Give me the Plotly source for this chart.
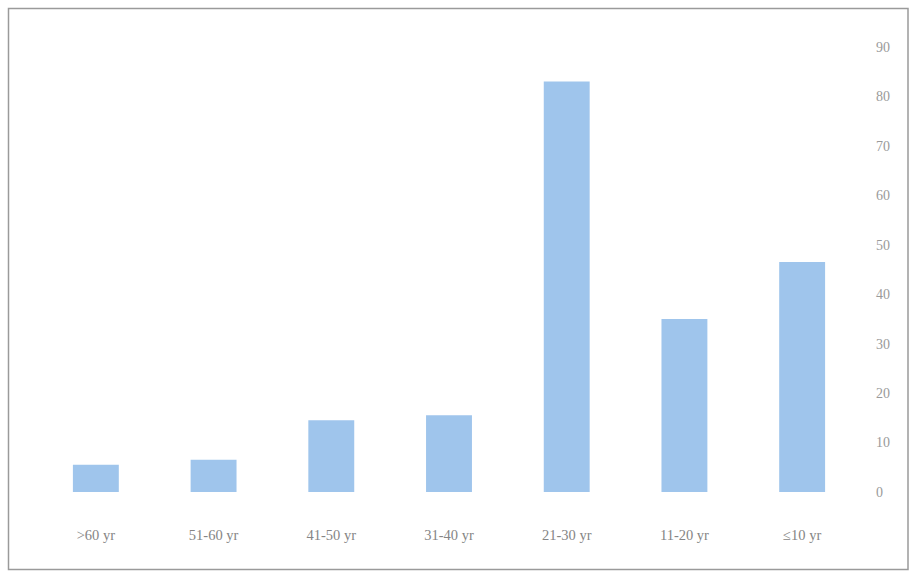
import plotly.graph_objects as go

categories = [">60 yr", "51-60 yr", "41-50 yr", "31-40 yr", "21-30 yr", "11-20 yr", "≤10 yr"]
values = [5.5, 6.5, 14.5, 15.5, 83, 35, 46.5]
y_ticks = [0, 10, 20, 30, 40, 50, 60, 70, 80, 90]

fig = go.Figure(go.Bar(
    x=categories, y=values,
    marker=dict(color="#9fc5ec", line=dict(width=0)),
    width=0.39,
))

W, H = 909, 573
L, R, T, B = 37, 48, 47, 81
pw, ph = W - L - R, H - T - B

def px_x(p):
    return (p - L) / pw

def px_y(p):
    return (H - B - p) / ph

fig.update_layout(
    width=W, height=H,
    margin=dict(l=L, r=R, t=T, b=B),
    paper_bgcolor="white", plot_bgcolor="white",
    showlegend=False,
    font=dict(family="Liberation Serif, Times New Roman, serif", size=14, color="#8a8a8a"),
    xaxis=dict(showgrid=False, showline=False, ticks="", tickfont=dict(size=14.5, color="#858585"),
               ticklabelstandoff=32),
    yaxis=dict(side="right", range=[0, 90], tickvals=y_ticks, showgrid=False, showline=False,
               zeroline=False, ticks="", tickfont=dict(size=14, color="#9a9a9a"),
               ticklabelstandoff=14),
    shapes=[dict(type="rect", xref="paper", yref="paper",
                 x0=px_x(8.5), x1=px_x(908), y0=px_y(569.5), y1=px_y(8.5),
                 line=dict(color="#9a9a9a", width=1.5), fillcolor="rgba(0,0,0,0)", layer="below")],
)

fig.write_html("out.html")
